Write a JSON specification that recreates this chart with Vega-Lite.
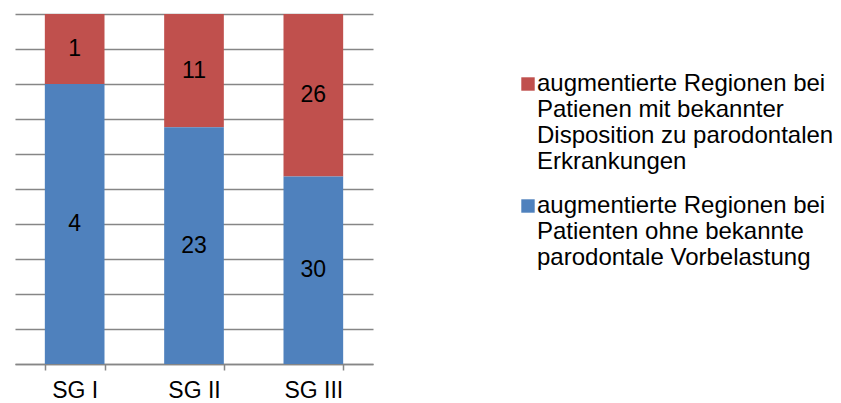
{
  "$schema": "https://vega.github.io/schema/vega-lite/v6.json",
  "width": 358,
  "height": 350,
  "autosize": {"type": "none"},
  "padding": {"left": 15, "top": 14, "right": 468, "bottom": 39},
  "background": "white",
  "config": {
    "view": {"stroke": null},
    "font": "Liberation Sans",
    "axisY": {
      "title": null,
      "labels": false,
      "ticks": false,
      "domain": false,
      "grid": true,
      "gridColor": "#868686",
      "gridWidth": 1.5
    }
  },
  "data": {
    "values": [
      {"gruppe": "SG I", "serie": "augmentierte Regionen bei Patienen mit bekannter Disposition zu parodontalen Erkrankungen", "anzahl": 1},
      {"gruppe": "SG I", "serie": "augmentierte Regionen bei Patienten ohne bekannte parodontale Vorbelastung", "anzahl": 4},
      {"gruppe": "SG II", "serie": "augmentierte Regionen bei Patienen mit bekannter Disposition zu parodontalen Erkrankungen", "anzahl": 11},
      {"gruppe": "SG II", "serie": "augmentierte Regionen bei Patienten ohne bekannte parodontale Vorbelastung", "anzahl": 23},
      {"gruppe": "SG III", "serie": "augmentierte Regionen bei Patienen mit bekannter Disposition zu parodontalen Erkrankungen", "anzahl": 26},
      {"gruppe": "SG III", "serie": "augmentierte Regionen bei Patienten ohne bekannte parodontale Vorbelastung", "anzahl": 30}
    ]
  },
  "encoding": {
    "x": {
      "field": "gruppe",
      "type": "nominal",
      "sort": ["SG I", "SG II", "SG III"],
      "scale": {"paddingInner": 0.5, "paddingOuter": 0.25},
      "axis": {
        "title": null,
        "labelAngle": 0,
        "labelFontSize": 23,
        "labelColor": "black",
        "labelPadding": 9,
        "domainColor": "#868686",
        "domainWidth": 1.5,
        "tickColor": "#868686",
        "tickWidth": 1.5,
        "tickSize": 6,
        "tickBand": "extent",
        "grid": false
      }
    }
  },
  "layer": [
    {
      "mark": {"type": "bar"},
      "encoding": {
        "y": {
          "field": "anzahl",
          "type": "quantitative",
          "stack": "normalize",
          "scale": {"domain": [0, 1], "nice": false},
          "axis": {
            "values": [0, 0.1, 0.2, 0.3, 0.4, 0.5, 0.6, 0.7, 0.8, 0.9, 1]
          }
        },
        "color": {
          "field": "serie",
          "type": "nominal",
          "scale": {
            "domain": [
              "augmentierte Regionen bei Patienen mit bekannter Disposition zu parodontalen Erkrankungen",
              "augmentierte Regionen bei Patienten ohne bekannte parodontale Vorbelastung"
            ],
            "range": ["#C0504D", "#4F81BD"]
          },
          "legend": {
            "title": null,
            "orient": "none",
            "legendX": 501,
            "legendY": 58,
            "symbolType": "square",
            "symbolSize": 180,
            "symbolStrokeWidth": 0,
            "labelFontSize": 24,
            "labelColor": "black",
            "labelLimit": 0,
            "labelOffset": -3,
            "rowPadding": 20,
            "labelExpr": "indexof(datum.label, 'Patienen') >= 0 ? ['augmentierte Regionen bei', 'Patienen mit bekannter', 'Disposition zu parodontalen', 'Erkrankungen'] : ['augmentierte Regionen bei', 'Patienten ohne bekannte', 'parodontale Vorbelastung']"
          }
        },
        "order": {"field": "serie", "sort": "descending"}
      }
    },
    {
      "mark": {"type": "text", "fontSize": 23, "color": "black"},
      "encoding": {
        "y": {
          "field": "anzahl",
          "type": "quantitative",
          "stack": "normalize",
          "bandPosition": 0.5,
          "axis": {
            "values": [0, 0.1, 0.2, 0.3, 0.4, 0.5, 0.6, 0.7, 0.8, 0.9, 1]
          }
        },
        "text": {"field": "anzahl", "type": "quantitative"},
        "detail": {"field": "serie"},
        "order": {"field": "serie", "sort": "descending"}
      }
    }
  ]
}
